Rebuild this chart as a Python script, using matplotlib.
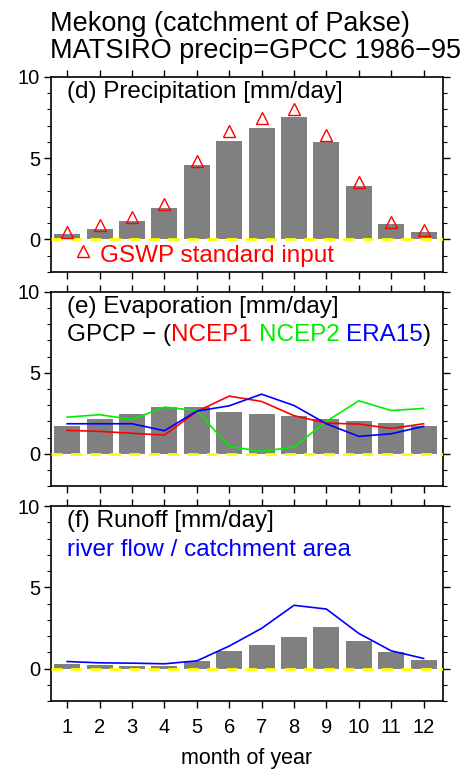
import matplotlib.pyplot as plt
import numpy as np

plt.rcParams['font.family'] = ['Liberation Sans', 'DejaVu Sans']

months = np.arange(1, 13)
month_labels = [str(m) for m in months]

# precipitation (d)
precip_model = [0.31, 0.66, 1.11, 1.91, 4.57, 6.07, 6.85, 7.53, 5.99, 3.27, 0.93, 0.49]
precip_gswp = [0.47, 0.88, 1.36, 2.16, 4.81, 6.67, 7.45, 8.0, 6.42, 3.56, 1.05, 0.60]

# evaporation (e)
evap_model = [1.73, 2.16, 2.47, 2.86, 2.86, 2.59, 2.47, 2.35, 2.16, 2.04, 1.91, 1.73]
evap_ncep1 = [1.44, 1.38, 1.26, 1.15, 2.61, 3.56, 3.23, 2.35, 1.89, 1.83, 1.56, 1.85]
evap_ncep2 = [2.26, 2.41, 2.12, 2.88, 2.67, 0.45, 0.14, 0.41, 2.00, 3.27, 2.67, 2.80]
evap_era15 = [1.85, 1.85, 1.85, 1.42, 2.63, 2.96, 3.68, 2.98, 1.85, 1.07, 1.23, 1.69]

# runoff (f)
runoff_model = [0.29, 0.23, 0.16, 0.16, 0.47, 1.09, 1.46, 1.95, 2.57, 1.71, 1.03, 0.53]
runoff_river = [0.43, 0.35, 0.33, 0.29, 0.47, 1.38, 2.47, 3.89, 3.66, 2.16, 1.09, 0.62]

fig = plt.figure(figsize=(4.74, 7.69), dpi=100)

fig.text(0.105, 0.986, "Mekong (catchment of Pakse)", fontsize=19.5, va='top', ha='left')
fig.text(0.105, 0.951, "MATSIRO precip=GPCC 1986\u221295", fontsize=19.5, va='top', ha='left')

boxes = [[0.1076, 0.6463, 0.827, 0.2536],
         [0.1076, 0.368, 0.827, 0.2523],
         [0.1076, 0.0884, 0.827, 0.2536]]
axs = [fig.add_axes(b) for b in boxes]

def style(ax, last=False):
    ax.set_xlim(0.5, 12.6)
    ax.set_ylim(-2, 10)
    ax.set_yticks([0, 5, 10])
    ax.set_yticks(np.arange(-2, 11, 1), minor=True)
    ax.set_xticks(months)
    ax.tick_params(axis='both', which='major', direction='out', length=5, width=1,
                   labelsize=14.5, top=True, right=True, pad=3)
    ax.tick_params(axis='x', pad=7)
    ax.tick_params(axis='y', which='minor', direction='out', length=3, width=0.8,
                   left=True, right=True)
    ax.tick_params(axis='x', labelbottom=last)
    if last:
        ax.set_xticklabels(month_labels)
        ax.set_xlabel("month of year", fontsize=15.5, labelpad=8)
    for s in ax.spines.values():
        s.set_linewidth(1.2)
    ax.axhline(0, color='#ffff00', lw=2, ls=(0, (4, 3)), zorder=3)

bar_kw = dict(width=0.8, color='#808080', zorder=2)

ax = axs[0]
style(ax)
ax.bar(months, precip_model, **bar_kw)
ax.plot(months, precip_gswp, ls='none', marker='^', mfc='none', mec='red',
        ms=8, mew=1, zorder=4)
ax.text(1.0, 9.75, "(d) Precipitation [mm/day]", fontsize=17.5, va='top')
ax.plot([1.5], [-0.7], ls='none', marker='^', mfc='none', mec='red', ms=8, mew=1)
ax.text(2.0, -1.0, "GSWP standard input", color='red', fontsize=17.5, va='center')

ax = axs[1]
style(ax)
ax.bar(months, evap_model, **bar_kw)
ax.plot(months, evap_ncep1, color='red', lw=1.2, zorder=4)
ax.plot(months, evap_ncep2, color='#00ee00', lw=1.2, zorder=4)
ax.plot(months, evap_era15, color='blue', lw=1.2, zorder=4)
ax.text(1.0, 9.75, "(e) Evaporation [mm/day]", fontsize=17.5, va='top')
t = ax.text(1.0, 8.0, "GPCP \u2212 (", fontsize=17.5, va='top')
for word, col in [("NCEP1 ", 'red'), ("NCEP2 ", '#00ee00'), ("ERA15", 'blue'), (")", 'black')]:
    t = ax.annotate(word, xy=(1, 0), xycoords=t, va='bottom', ha='left',
                    color=col, fontsize=17.5)

ax = axs[2]
style(ax, last=True)
ax.bar(months, runoff_model, **bar_kw)
ax.plot(months, runoff_river, color='blue', lw=1.2, zorder=4)
ax.text(1.0, 9.75, "(f) Runoff [mm/day]", fontsize=17.5, va='top')
ax.text(1.0, 8.0, "river flow / catchment area", color='blue', fontsize=17.5, va='top')

fig.savefig("out.png", dpi=100)
